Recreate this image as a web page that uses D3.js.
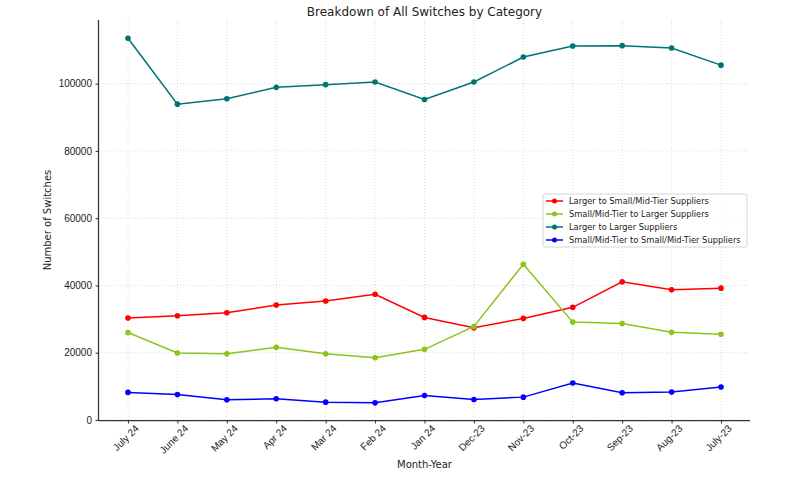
<!DOCTYPE html>
<html>
<head>
<meta charset="utf-8">
<script src="https://cdn.jsdelivr.net/npm/d3@7"></script>
<style>
  body { margin: 0; background: #fff; }
  svg { display: block; font-family: "DejaVu Sans", sans-serif; }
</style>
</head>
<body>
<svg id="chart" width="795" height="477"></svg>
<script>
const categories = ["July 24", "June 24", "May 24", "Apr 24", "Mar 24", "Feb 24", "Jan 24", "Dec-23", "Nov-23", "Oct-23", "Sep-23", "Aug-23", "July-23"];
const largerToSmall = [30300, 31000, 31900, 34200, 35400, 37400, 30500, 27400, 30200, 33500, 41100, 38700, 39200];
const smallToLarger = [26000, 19900, 19700, 21600, 19700, 18500, 21000, 27800, 46300, 29100, 28700, 26100, 25500];
const largerToLarger = [113500, 93900, 95500, 98900, 99700, 100500, 95300, 100500, 107900, 111200, 111300, 110600, 105500];
const smallToSmall = [8200, 7600, 6000, 6300, 5300, 5100, 7300, 6100, 6800, 11000, 8100, 8300, 9800];
const yTicks = [0, 20000, 40000, 60000, 80000, 100000];

const series = [
  { name: "Larger to Small/Mid-Tier Suppliers", values: largerToSmall, color: "#ff0000" },
  { name: "Small/Mid-Tier to Larger Suppliers", values: smallToLarger, color: "#8cc31c" },
  { name: "Larger to Larger Suppliers", values: largerToLarger, color: "#007474" },
  { name: "Small/Mid-Tier to Small/Mid-Tier Suppliers", values: smallToSmall, color: "#0000ff" }
];

const svg = d3.select("#chart");
const L = 99, R = 750, T = 20, B = 420;

const x = d3.scalePoint().domain(categories).range([128, 721]);
const allVals = series.flatMap(s => s.values);
const yMax = d3.max(allVals) + (d3.max(allVals) - d3.min(allVals)) * 0.05;
const y = d3.scaleLinear().domain([0, yMax]).range([B, T]);

// grid
const grid = svg.append("g");
categories.forEach(c => {
  grid.append("line").attr("x1", x(c)).attr("x2", x(c)).attr("y1", T).attr("y2", B)
    .attr("stroke", "#d0d0d0").attr("stroke-width", 0.8).attr("stroke-dasharray", "1,2");
});
yTicks.forEach(t => {
  grid.append("line").attr("x1", L).attr("x2", R).attr("y1", y(t)).attr("y2", y(t))
    .attr("stroke", "#d0d0d0").attr("stroke-width", 0.8).attr("stroke-dasharray", "1,2");
});

// axes
const xAxis = svg.append("g").attr("transform", `translate(0,${B})`)
  .call(d3.axisBottom(x).tickSizeOuter(0).tickSize(3.5).tickPadding(3));
xAxis.select(".domain").attr("d", `M${L},0.5H${R}`).attr("stroke", "#333").attr("stroke-width", 1.25);
xAxis.selectAll(".tick line").attr("stroke", "#333");
xAxis.selectAll(".tick text")
  .attr("font-size", 10).attr("fill", "#222")
  .attr("text-anchor", "end")
  .attr("transform", "translate(6,4) rotate(-45)")
  .attr("dy", "0.71em").attr("y", 0).attr("x", 0);

const yAxis = svg.append("g").attr("transform", `translate(${L},0)`)
  .call(d3.axisLeft(y).tickValues(yTicks).tickFormat(d3.format("d")).tickSize(3.5).tickPadding(3.5).tickSizeOuter(0));
yAxis.select(".domain").attr("d", `M-0.5,${B}V${T}`).attr("stroke", "#333").attr("stroke-width", 1.25);
yAxis.selectAll(".tick line").attr("stroke", "#333");
yAxis.selectAll(".tick text").attr("font-size", 10).attr("fill", "#222");

// lines
const line = d3.line().x((d, i) => x(categories[i])).y(d => y(d));
series.forEach(s => {
  svg.append("path").datum(s.values).attr("d", line)
    .attr("fill", "none").attr("stroke", s.color).attr("stroke-width", 1.5);
  svg.append("g").selectAll("circle").data(s.values).join("circle")
    .attr("cx", (d, i) => x(categories[i])).attr("cy", d => y(d)).attr("r", 2.8)
    .attr("fill", s.color);
});

// title & labels
svg.append("text").attr("x", (L + R) / 2).attr("y", 16).attr("text-anchor", "middle")
  .attr("font-size", 12).attr("fill", "#222").text("Breakdown of All Switches by Category");
svg.append("text").attr("x", (L + R) / 2).attr("y", 468).attr("text-anchor", "middle")
  .attr("font-size", 10).attr("fill", "#222").text("Month-Year");
svg.append("text").attr("transform", `translate(51,${(T + B) / 2}) rotate(-90)`).attr("text-anchor", "middle")
  .attr("font-size", 10).attr("fill", "#222").text("Number of Switches");

// legend
const lg = svg.append("g").attr("transform", "translate(543,194)");
lg.append("rect").attr("x", 0).attr("y", 0).attr("width", 204).attr("height", 53).attr("rx", 2)
  .attr("fill", "#fff").attr("fill-opacity", 0.8).attr("stroke", "#ccc").attr("stroke-width", 0.8);
series.forEach((s, i) => {
  const yy = 7 + i * 13;
  lg.append("line").attr("x1", 3).attr("x2", 20).attr("y1", yy).attr("y2", yy)
    .attr("stroke", s.color).attr("stroke-width", 1.5);
  lg.append("circle").attr("cx", 11.5).attr("cy", yy).attr("r", 2.5).attr("fill", s.color);
  lg.append("text").attr("x", 26).attr("y", yy).attr("dy", "0.35em")
    .attr("font-size", 8.3).attr("fill", "#222").text(s.name);
});
</script>
</body>
</html>
